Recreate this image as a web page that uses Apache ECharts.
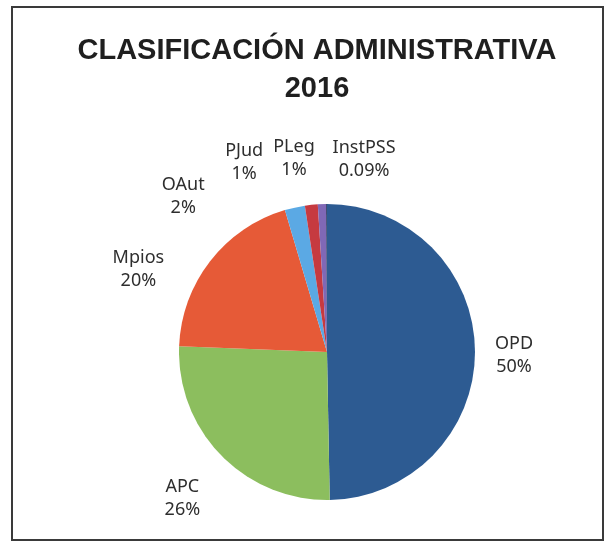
<!DOCTYPE html>
<html>
<head>
<meta charset="utf-8">
<script src="https://cdn.jsdelivr.net/npm/echarts@6/dist/echarts.min.js"></script>
<style>html,body{margin:0;padding:0;background:#fff}#c{width:608px;height:542px}</style>
</head>
<body>
<div id="c"></div>
<script>
// Data (percent shares)
const categories = ['OPD', 'APC', 'Mpios', 'OAut', 'PJud', 'PLeg', 'InstPSS'];
const shares = [49.7, 25.9, 19.8, 2.2, 1.4, 0.9, 0.09];
const colors = ['#2D5B92', '#8CBE5E', '#E65A37', '#5BA9E4', '#C63A40', '#8068B6', '#1E2C55'];

// Label placement (angle in degrees clockwise from 12 o'clock, distance from centre)
const labelAngle = [91, 224.6, 293.7, 317.3, 336.4, 350.3, 10.9];
const labelDist = [187, 206, 206, 212, 207, 196, 196];

const CX = 327, CY = 352, R = 148;

const chart = echarts.init(document.getElementById('c'));
chart.setOption({
  animation: false,
  backgroundColor: '#ffffff',
  title: {
    text: 'CLASIFICACIÓN ADMINISTRATIVA\n2016',
    left: 312,
    textAlign: 'center',
    top: 27,
    textStyle: {
      fontFamily: 'Liberation Sans',
      fontWeight: 'bold',
      fontSize: 29,
      lineHeight: 38,
      color: '#1f1f1f'
    }
  },
  graphic: [{
    type: 'rect',
    shape: { x: 12, y: 7, width: 591, height: 533 },
    style: { fill: null, stroke: '#3a3a3a', lineWidth: 2 },
    silent: true
  }],
  series: [{
    type: 'pie',
    center: [CX, CY],
    radius: R,
    startAngle: 90,
    clockwise: true,
    avoidLabelOverlap: false,
    data: categories.map((name, i) => ({
      name: name,
      value: shares[i],
      itemStyle: { color: colors[i] }
    })),
    itemStyle: { borderWidth: 0 },
    label: {
      show: true,
      position: 'outside',
      formatter: p => p.name + '\n' + (p.value < 0.5 ? p.value.toFixed(2) : Math.round(p.value)) + '%',
      fontFamily: 'Noto Sans',
      fontSize: 18,
      lineHeight: 23,
      color: '#2e2e2e',
      align: 'center'
    },
    labelLine: { show: false },
    labelLayout: function (params) {
      const i = params.dataIndex;
      const a = labelAngle[i] * Math.PI / 180;
      return {
        x: CX + labelDist[i] * Math.sin(a),
        y: CY - labelDist[i] * Math.cos(a),
        align: 'center',
        verticalAlign: 'middle'
      };
    },
    emphasis: { disabled: true }
  }]
});
</script>
</body>
</html>
